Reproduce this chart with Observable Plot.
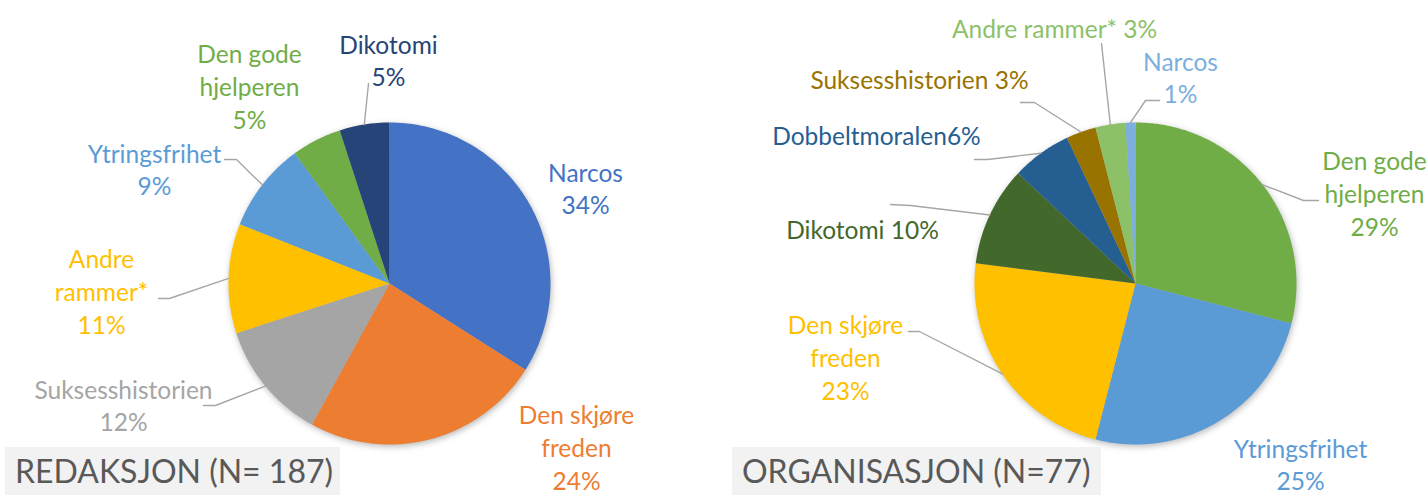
<!DOCTYPE html>
<html><head><meta charset="utf-8">
<script src="https://cdn.jsdelivr.net/npm/d3@7"></script>
<script src="https://cdn.jsdelivr.net/npm/@observablehq/plot@0.6"></script>
<style>
body{margin:0;background:#fff;}
#wrap{position:relative;width:1427px;height:495px;overflow:hidden;font-family:Lato,sans-serif;}
#wrap svg{position:absolute;left:0;top:0;}
.title{position:absolute;top:447px;height:48px;background:#F2F2F2;color:#595959;font-size:32px;line-height:48px;padding-left:10px;box-sizing:border-box;white-space:nowrap;}
</style></head><body><div id="wrap"></div>
<script>
// ---- data ----
const leftCategories = ["Narcos","Den skjøre freden","Suksesshistorien","Andre rammer*","Ytringsfrihet","Den gode hjelperen","Dikotomi"];
const leftValues = [34,24,12,11,9,5,5];
const leftLabelNames = ["Narcos","Den skjøre\nfreden","Suksesshistorien","Andre\nrammer*","Ytringsfrihet","Den gode\nhjelperen","Dikotomi"];
const leftSeparators = ["\n","\n","\n","\n","\n","\n","\n"];

const rightCategories = ["Den gode hjelperen","Ytringsfrihet","Den skjøre freden","Dikotomi","Dobbeltmoralen","Suksesshistorien","Andre rammer*","Narcos"];
const rightValues = [29,25,23,10,6,3,3,1];
const rightLabelNames = ["Den gode\nhjelperen","Ytringsfrihet","Den skjøre\nfreden","Dikotomi","Dobbeltmoralen","Suksesshistorien","Andre rammer*","Narcos"];
const rightSeparators = ["\n","\n","\n"," ",""," "," ","\n"];

const titles = ["REDAKSJON (N= 187)","ORGANISASJON (N=77)"];

// ---- styles ----
const leftColors = ["#4472C4","#ED7D31","#A5A5A5","#FFC000","#5B9BD5","#70AD47","#264478"];
const rightColors = ["#70AD47","#5B9BD5","#FFC000","#43682B","#255E91","#997300","#8CC168","#7CAFDD"];

// ---- layout (pixel offsets from pie centre; dy downward) ----
const W = 1427, H = 495, R = 161;
const centersPx = [[389,283],[1135,283]];
const leftLabelPos = [[196,-96],[187,163],[-266,121],[-288,7],[-235,-115],[-140,-198],[-1,-224]];
const leftLeaders = [null,null,[[-174,122],[-186,122]],[[-220,15],[-231,15]],[[-153,-124],[-165,-124]],null,[[-21,-200]]];
const rightLabelPos = [[239,-91],[165,180],[-290,73],[-273,-55],[-259,-149],[-216,-205],[-81,-256],[45,-207]];
const rightLeaders = [[[168,-83],[183,-83]],null,[[-216,48],[-227,48]],[[-225,-78],[-245,-79]],[[-148,-124],[-161,-124]],[[-101,-181],[-115,-181]],[[-34,-240]],[[10,-183],[24,-183]]];

// ---- build geometry in radius units ----
const cx = centersPx.map(([x]) => (x - centersPx[0][0]) / R);
const cy = centersPx.map(([,y]) => (centersPx[0][1] - y) / R);
const xDomain = [-centersPx[0][0] / R, (W - centersPx[0][0]) / R];
const yDomain = [-(H - centersPx[0][1]) / R, centersPx[0][1] / R];

const pies = [
  {cats: leftCategories, vals: leftValues, names: leftLabelNames, seps: leftSeparators, colors: leftColors, pos: leftLabelPos, leaders: leftLeaders},
  {cats: rightCategories, vals: rightValues, names: rightLabelNames, seps: rightSeparators, colors: rightColors, pos: rightLabelPos, leaders: rightLeaders}
];

const slicePts = [], leaderPts = [], labels = [];
pies.forEach((p, pi) => {
  const arcs = d3.pie().sort(null).value(d => d)(p.vals);
  arcs.forEach((a, i) => {
    const key = pi + "-" + i;
    const color = p.colors[i];
    slicePts.push({key, color, x: cx[pi], y: cy[pi]});
    const n = Math.max(2, Math.ceil((a.endAngle - a.startAngle) / 0.01));
    for (let k = 0; k <= n; k++) {
      const t = a.startAngle + (a.endAngle - a.startAngle) * k / n;
      slicePts.push({key, color, x: cx[pi] + Math.sin(t), y: cy[pi] + Math.cos(t)});
    }
    slicePts.push({key, color, x: cx[pi], y: cy[pi]});
    const mid = (a.startAngle + a.endAngle) / 2;
    if (p.leaders[i]) {
      leaderPts.push({key, x: cx[pi] + Math.sin(mid), y: cy[pi] + Math.cos(mid)});
      p.leaders[i].forEach(([dx, dy]) => leaderPts.push({key, x: cx[pi] + dx / R, y: cy[pi] - dy / R}));
    }
    labels.push({
      x: cx[pi] + p.pos[i][0] / R,
      y: cy[pi] - p.pos[i][1] / R,
      text: p.names[i] + p.seps[i] + p.vals[i] + "%",
      color
    });
  });
});

const chart = Plot.plot({
  width: W, height: H, margin: 0,
  x: {domain: xDomain, axis: null},
  y: {domain: yDomain, axis: null},
  color: {type: "identity"},
  style: {fontFamily: "Lato, sans-serif", background: "transparent", overflow: "visible"},
  marks: [
    Plot.line(slicePts, {x: "x", y: "y", z: "key", fill: "color", stroke: "none", curve: "linear"}),
    Plot.line(leaderPts, {x: "x", y: "y", z: "key", stroke: "#A6A6A6", strokeWidth: 1.4, curve: "linear"}),
    Plot.text(labels, {x: "x", y: "y", text: "text", fill: "color", fontSize: 24.5, lineHeight: 1.33, textAnchor: "middle"})
  ]
});
const wrap = document.getElementById("wrap");
wrap.appendChild(chart);
const lineGroups = chart.querySelectorAll('g[aria-label="line"]');
if (lineGroups[0]) lineGroups[0].style.filter = "drop-shadow(1px 2px 3px rgba(0,0,0,0.28))";

const boxes = [[5,335],[732,369]];
titles.forEach((t, i) => {
  const d = document.createElement("div");
  d.className = "title";
  d.style.left = boxes[i][0] + "px";
  d.style.width = boxes[i][1] + "px";
  d.textContent = t;
  wrap.appendChild(d);
});
</script>
</body></html>
